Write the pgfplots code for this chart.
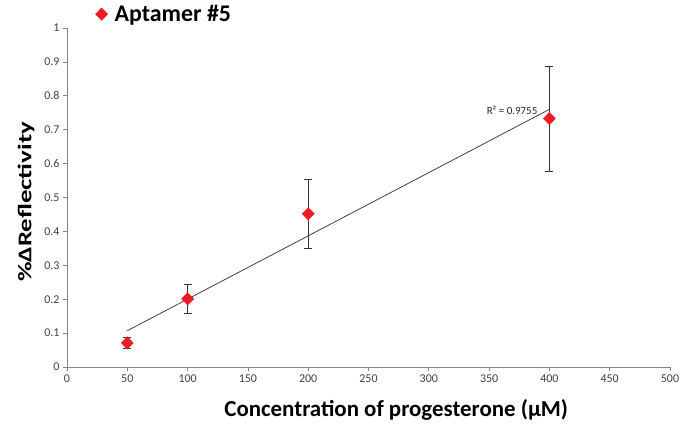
\documentclass[border=0pt]{standalone}
\usepackage{pgfplots}
\pgfplotsset{compat=1.18}
\usepackage{fontspec}
\setmainfont{Carlito}

\definecolor{markred}{RGB}{237,28,36}
\definecolor{axisgray}{RGB}{134,134,134}
\definecolor{ticktext}{RGB}{64,64,64}

\begin{document}
\begin{tikzpicture}
\begin{axis}[
    at={(0,0)}, anchor=origin,
    scale only axis,
    width=603bp, height=339bp,
    xmin=0, xmax=500,
    ymin=0, ymax=1,
    xtick distance=50,
    ytick distance=0.1,
    axis lines=left,
    axis line style={-, axisgray, line width=0.7pt},
    tick style={axisgray, line width=0.7pt},
    tick align=outside,
    major tick length=4bp,
    ticklabel style={font=\fontsize{12}{14}\selectfont, text=ticktext},
    /pgf/number format/assume math mode=true,
    yticklabel style={/pgf/number format/fixed, /pgf/number format/precision=1},
    xlabel={Concentration of progesterone (μM)},
    ylabel={\%ΔReflectivity},
    xlabel style={at={(rel axis cs:0.546,0)}, anchor=center, yshift=-43bp,
        font=\fontsize{23}{26}\selectfont\bfseries},
    ylabel style={at={(axis description cs:-0.068,0.487)}, anchor=center,
        font=\fontsize{27}{30}\selectfont\bfseries, yscale=0.72},
    legend style={draw=none, fill=none, at={(rel axis cs:0.042,1.041)}, anchor=west,
        font=\fontsize{24}{26}\selectfont\bfseries},
    clip=false
]

% linear trendline
\addplot[black!75, line width=0.8pt, forget plot] coordinates {(50,0.107) (400,0.760)};
\node[anchor=east, font=\fontsize{11}{13}\selectfont, text=black!85, inner sep=1bp]
    at (axis cs:391,0.757) {R² = 0.9755};

\addplot[only marks, mark=diamond*, mark size=6.2bp,
    mark options={fill=markred, draw=markred, xscale=1.3},
    error bars/.cd, y dir=both, y explicit,
    error bar style={black!80, line width=0.8pt},
    error mark options={rotate=90, mark size=4bp, black!80, line width=0.8pt}]
    coordinates {
    (50,0.071) +- (0,0.016)
    (100,0.201) +- (0,0.042)
    (200,0.452) +- (0,0.102)
    (400,0.733) +- (0,0.155)
};
\addlegendentry{\hspace{5bp}Aptamer \#5}

\end{axis}
\pgfresetboundingbox
\useasboundingbox (-67bp,-59bp) rectangle (618bp,367bp);
\end{tikzpicture}
\end{document}
